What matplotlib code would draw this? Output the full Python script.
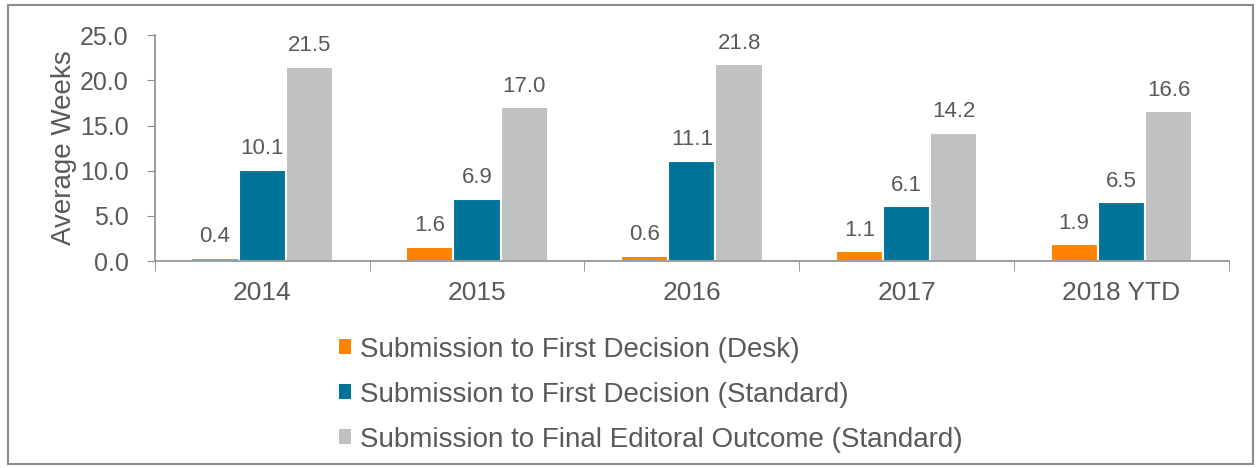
import numpy as np
import matplotlib.pyplot as plt
from matplotlib.patches import Patch, Rectangle

plt.rcParams['font.family'] = ['Liberation Sans', 'DejaVu Sans']

years = ['2014', '2015', '2016', '2017', '2018 YTD']
desk = [0.4, 1.6, 0.6, 1.1, 1.9]
standard = [10.1, 6.9, 11.1, 6.1, 6.5]
final_outcome = [21.5, 17.0, 21.8, 14.2, 16.6]
series_names = ['Submission to First Decision (Desk)',
                'Submission to First Decision (Standard)',
                'Submission to Final Editoral Outcome (Standard)']
colors = ['#FF8200', '#007398', '#C0C1C3']
text_col = '#595959'
axis_col = '#8C8C8C'

fig = plt.figure(figsize=(12.59, 4.68), dpi=100)
ax = fig.add_axes([0.123, 0.442, 0.853, 0.483])

x = np.arange(len(years))
w = 0.22
for i, (vals, c) in enumerate(zip([desk, standard, final_outcome], colors)):
    pos = x + (i - 1) * w
    ax.bar(pos, vals, width=w, color=c, edgecolor='white', linewidth=1.5)
    for p, v in zip(pos, vals):
        ax.text(p, v + 1.15, f'{v:.1f}', ha='center', va='bottom',
                fontsize=16, color=text_col)

ax.set_xlim(-0.5, len(years) - 0.5)
ax.set_ylim(0, 25)
ax.set_yticks(np.arange(0, 25.1, 5))
ax.set_yticklabels([f'{t:.1f}' for t in np.arange(0, 25.1, 5)])
ax.set_xticks(x)
ax.set_xticklabels(years)
ax.set_xticks(np.arange(-0.5, len(years), 1), minor=True)
ax.tick_params(axis='x', which='major', length=0, pad=14, labelsize=19, labelcolor=text_col)
ax.tick_params(axis='x', which='minor', length=7, color=axis_col, direction='out')
ax.tick_params(axis='y', length=6, color=axis_col, labelsize=18, labelcolor=text_col, pad=13)
ax.set_ylabel('Average Weeks', fontsize=20, color=text_col, labelpad=2)

for s in ['top', 'right']:
    ax.spines[s].set_visible(False)
for s in ['left', 'bottom']:
    ax.spines[s].set_color(axis_col)
    ax.spines[s].set_linewidth(1.2)

handles = [Patch(facecolor=c, edgecolor='none') for c in colors]
fig.legend(handles, series_names, loc='upper left', bbox_to_anchor=(0.258, 0.31),
           frameon=False, fontsize=20, labelcolor=text_col, handlelength=0.45,
           handleheight=0.45, handletextpad=0.3, labelspacing=0.68, borderpad=0)

fig.patches.append(Rectangle((0.006, 0.008), 0.989, 0.981, transform=fig.transFigure,
                             fill=False, edgecolor='#8C8C8C', linewidth=1.5))

fig.savefig('out.png', dpi=100)
